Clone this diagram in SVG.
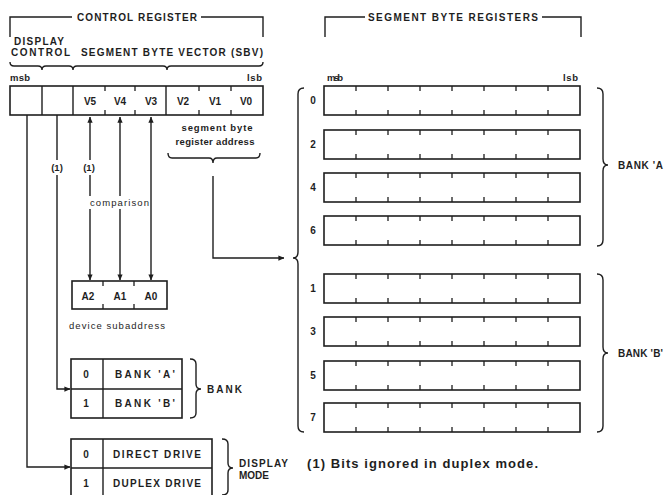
<svg xmlns="http://www.w3.org/2000/svg" width="667" height="495" viewBox="0 0 667 495">
<defs>
<style>
.ln{fill:none;stroke:#1e1e1e;stroke-width:1.4}
.bx{fill:#fff;stroke:#1e1e1e;stroke-width:1.6}
.tk{fill:none;stroke:#1e1e1e;stroke-width:1.3}
.t{font-family:"Liberation Sans",Arial,sans-serif;font-weight:bold;font-size:10px;fill:#1e1e1e}
.s{font-family:"Liberation Sans",Arial,sans-serif;font-size:9.5px;fill:#1e1e1e}
.f{font-family:"Liberation Sans",Arial,sans-serif;font-size:13px;font-weight:bold;fill:#1e1e1e}
.m{text-anchor:middle}
</style>
<marker id="ah" viewBox="0 0 8 8" refX="7.5" refY="4" markerWidth="6" markerHeight="6" orient="auto-start-reverse" markerUnits="userSpaceOnUse">
<path d="M0,0.5 L8,4 L0,7.5 Z" fill="#1e1e1e"/>
</marker>
<g id="regrow">
<rect class="bx" x="0" y="0" width="256" height="29"/>
<path class="tk" d="M32,0v5M64,0v5M96,0v5M128,0v5M160,0v5M192,0v5M224,0v5M32,29v-5M64,29v-5M96,29v-5M128,29v-5M160,29v-5M192,29v-5M224,29v-5"/>
</g>
</defs>
<rect width="667" height="495" fill="#fff"/>

<g id="connectors">
<path class="ln" d="M27,115 V467 H70" marker-end="url(#ah)"/>
<path class="ln" d="M57,115 V160 M57,175 V389 H70" marker-end="url(#ah)"/>
<path class="ln" d="M90,117 V160" marker-start="url(#ah)"/>
<path class="ln" d="M90,175 V196 M90,209 V280" marker-end="url(#ah)"/>
<path class="ln" d="M120,117 V196 M120,209 V280" marker-start="url(#ah)" marker-end="url(#ah)"/>
<path class="ln" d="M151,117 V280" marker-start="url(#ah)" marker-end="url(#ah)"/>
<path class="ln" d="M213,176 V258 H284" marker-end="url(#ah)"/>
</g>

<g id="control-register-bracket">
<path class="ln" d="M10,37 V17 H72 M201,17 H263 V37"/>
<text class="t m" x="137" y="21" textLength="120">CONTROL REGISTER</text>
</g>

<g id="labels-top">
<text class="t" x="14" y="45" textLength="50">DISPLAY</text>
<text class="t" x="11" y="56" textLength="59">CONTROL</text>
<text class="t" x="81" y="56" textLength="182">SEGMENT BYTE VECTOR (SBV)</text>
<path class="ln" d="M10,62 Q10,66 14,66 H38 Q42,66 42,70 Q42,66 46,66 H69 Q73,66 73,70 Q73,66 77,66 H163 Q167,66 167,70 Q167,66 171,66 H259 Q263,66 263,62"/>
<text class="s" x="10" y="81" font-weight="bold" textLength="20">msb</text>
<text class="s" x="247" y="81" font-weight="bold" textLength="15">lsb</text>
</g>

<g id="control-register">
<rect class="bx" x="10" y="86" width="253" height="29"/>
<path class="ln" d="M42,86V115M73,86V115"/>
<path class="ln" d="M166,86V115" stroke-width="2"/>
<path class="tk" d="M105,86v5M135,86v5M199,86v5M231,86v5M105,115v-5M135,115v-5M199,115v-5M231,115v-5"/>
<text class="t m" x="90" y="105">V5</text>
<text class="t m" x="120" y="105">V4</text>
<text class="t m" x="151" y="105">V3</text>
<text class="t m" x="183" y="105">V2</text>
<text class="t m" x="215" y="105">V1</text>
<text class="t m" x="246" y="105">V0</text>
</g>

<g id="sb-address">
<text class="s m" x="217" y="131" font-weight="bold" textLength="71">segment byte</text>
<text class="s m" x="215" y="145" font-weight="bold" textLength="79">register address</text>
<path class="ln" d="M168,153 Q168,158 172,158 H209 Q213,158 213,163 Q213,158 217,158 H256 Q260,158 260,153"/>
</g>

<g id="notes">
<text class="s m" x="57" y="171" font-weight="bold">(1)</text>
<text class="s m" x="89" y="171" font-weight="bold">(1)</text>
<text class="s" x="90" y="206" textLength="59">comparison</text>
</g>

<g id="device-subaddress">
<rect class="bx" x="72" y="281" width="95" height="28"/>
<path class="tk" d="M103,281v5M134,281v5M103,309v-5M134,309v-5"/>
<text class="t m" x="88" y="300">A2</text>
<text class="t m" x="120" y="300">A1</text>
<text class="t m" x="151" y="300">A0</text>
<text class="s" x="69" y="329" textLength="96">device subaddress</text>
</g>

<g id="bank-table">
<rect class="bx" x="71" y="359" width="111" height="59"/>
<path class="ln" d="M71,389H182M103,359V418"/>
<text class="t m" x="86" y="378">0</text>
<text class="t" x="115" y="378" textLength="60">BANK 'A'</text>
<text class="t m" x="86" y="407">1</text>
<text class="t" x="115" y="407" textLength="60">BANK 'B'</text>
<path class="ln" d="M190,359 Q196,359 196,364 V384 Q196,389 201,389 Q196,389 196,394 V413 Q196,418 190,418"/>
<text class="t" x="207" y="393" textLength="35">BANK</text>
</g>

<g id="display-mode-table">
<rect class="bx" x="71" y="439" width="141" height="58"/>
<path class="ln" d="M71,468H212M103,439V497"/>
<text class="t m" x="86" y="458">0</text>
<text class="t" x="113" y="458" textLength="88">DIRECT DRIVE</text>
<text class="t m" x="86" y="487">1</text>
<text class="t" x="113" y="487" textLength="88">DUPLEX DRIVE</text>
<path class="ln" d="M222,439 Q228,439 228,444 V463 Q228,468 233,468 Q228,468 228,473 V490 Q228,495 222,495"/>
<text class="t" x="239" y="467" textLength="49">DISPLAY</text>
<text class="t" x="239" y="479" textLength="30">MODE</text>
</g>

<g id="segment-byte-registers">
<path class="ln" d="M325,37 V17 H365 M542,17 H581 V37"/>
<text class="t m" x="453" y="21" textLength="170">SEGMENT BYTE REGISTERS</text>
<text class="s" x="327" y="81" font-weight="bold" textLength="16">msb</text>
<text class="s" x="563" y="81" font-weight="bold" textLength="15">lsb</text>
<use href="#regrow" x="324" y="86"/>
<use href="#regrow" x="324" y="130"/>
<use href="#regrow" x="324" y="173"/>
<use href="#regrow" x="324" y="216"/>
<use href="#regrow" x="324" y="274"/>
<use href="#regrow" x="324" y="317"/>
<use href="#regrow" x="324" y="361"/>
<use href="#regrow" x="324" y="403"/>
<text class="t m" x="313" y="104">0</text>
<text class="t m" x="313" y="148">2</text>
<text class="t m" x="313" y="191">4</text>
<text class="t m" x="313" y="234">6</text>
<text class="t m" x="313" y="292">1</text>
<text class="t m" x="313" y="335">3</text>
<text class="t m" x="313" y="379">5</text>
<text class="t m" x="313" y="421">7</text>
<path class="ln" d="M304,88 Q298,88 298,94 V252 Q298,258 293,258 Q298,258 298,264 V426 Q298,432 304,432"/>
<path class="ln" d="M597,88 Q603,88 603,94 V159 Q603,165 608,165 Q603,165 603,171 V240 Q603,246 597,246"/>
<path class="ln" d="M597,274 Q603,274 603,280 V347 Q603,353 608,353 Q603,353 603,359 V426 Q603,432 597,432"/>
<text class="t" x="618" y="169" textLength="45">BANK 'A</text>
<text class="t" x="618" y="357" textLength="45">BANK 'B'</text>
</g>

<g id="footnote">
<text class="f" x="307" y="468" textLength="231">(1) Bits ignored in duplex mode.</text>
</g>
</svg>
